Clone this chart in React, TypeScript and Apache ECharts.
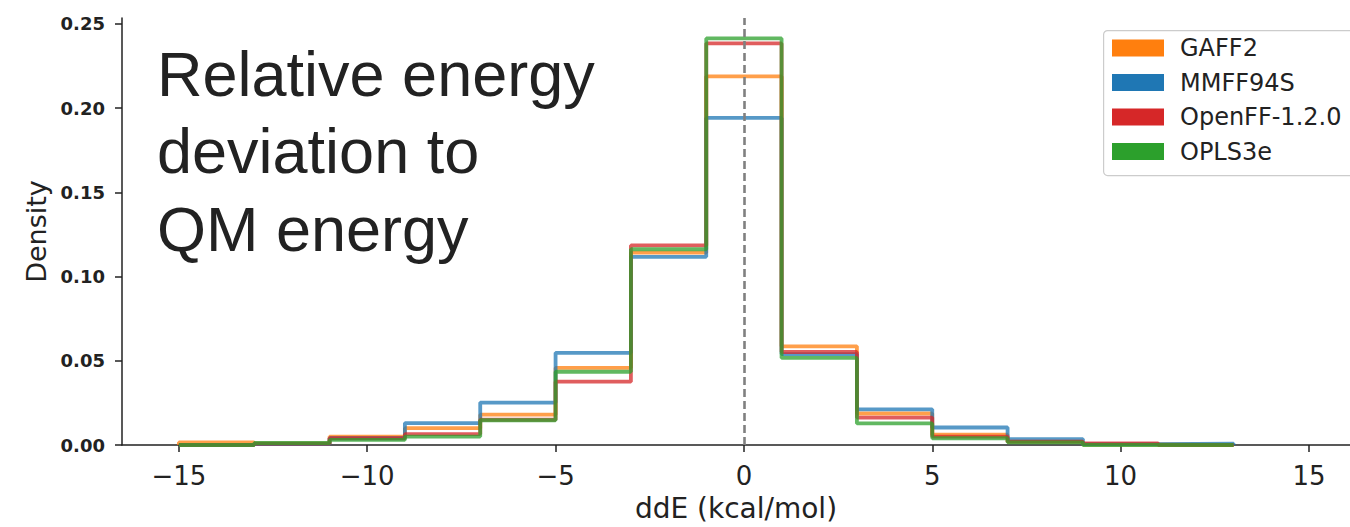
import React, { useEffect, useRef } from "react";
import * as echarts from "echarts";

const binEdges = [-15, -13, -11, -9, -7, -5, -3, -1, 1, 3, 5, 7, 9, 11, 13];
const seriesNames = ["GAFF2", "MMFF94S", "OpenFF-1.2.0", "OPLS3e"];
const seriesColors = ["#ff7f0e", "#1f77b4", "#d62728", "#2ca02c"];
const gaff2 = [0.0015, 0.0008, 0.005, 0.010, 0.018, 0.0458, 0.1142, 0.2188, 0.0586, 0.0187, 0.0061, 0.002, 0.0003, 0];
const mmff94s = [0, 0.0005, 0.004, 0.013, 0.0252, 0.0547, 0.1117, 0.1942, 0.054, 0.0212, 0.0104, 0.0035, 0.0005, 0.0008];
const openff = [0, 0.0008, 0.004, 0.0065, 0.015, 0.0376, 0.1185, 0.2384, 0.0552, 0.0163, 0.005, 0.002, 0.001, 0];
const opls3e = [0, 0.0012, 0.003, 0.005, 0.0147, 0.0435, 0.1162, 0.2414, 0.0517, 0.0128, 0.004, 0.0016, 0, 0];
const seriesValues = [gaff2, mmff94s, openff, opls3e];
const xTicks = [-15, -10, -5, 0, 5, 10, 15];
const yTicks = [0, 0.05, 0.1, 0.15, 0.2, 0.25];
const titleLines = ["Relative energy", "deviation to", "QM energy"];

function stepPoints(values: number[]): number[][] {
  const pts: number[][] = [[binEdges[0], 0]];
  values.forEach((v, i) => {
    pts.push([binEdges[i], v]);
    pts.push([binEdges[i + 1], v]);
  });
  pts.push([binEdges[binEdges.length - 1], 0]);
  return pts;
}

export default function App() {
  const ref = useRef<HTMLDivElement>(null);
  useEffect(() => {
    if (!ref.current) return;
    const chart = echarts.init(ref.current, null, { renderer: "svg" });
    const fmtMinus = (v: number) => String(v).replace("-", "\u2212");
    const series: any[] = seriesNames.map((name, i) => ({
      name,
      type: "line",
      data: stepPoints(seriesValues[i]),
      showSymbol: false,
      symbol: "none",
      color: seriesColors[i],
      lineStyle: { color: seriesColors[i], width: 3.8, opacity: 0.75 },
      itemStyle: { color: seriesColors[i] },
      z: 3 + i,
      silent: true,
      ...(i === 0
        ? {
            markLine: {
              silent: true,
              symbol: "none",
              label: { show: false },
              lineStyle: { color: "#808080", type: [8, 4], width: 2.6, opacity: 1 },
              data: [{ xAxis: 0 }],
              z: 10,
            },
          }
        : {}),
    }));
    chart.setOption({
      animation: false,
      backgroundColor: "#ffffff",
      grid: { left: 122, right: 0, top: 18, bottom: 71, containLabel: false },
      xAxis: {
        type: "value",
        min: -16.51,
        max: 16.09,
        name: "ddE (kcal/mol)",
        nameLocation: "middle",
        nameGap: 49,
        nameTextStyle: { fontFamily: "DejaVu Sans", fontSize: 28, color: "#222" },
        axisLine: { show: true, onZero: false, lineStyle: { color: "#222", width: 1.5 } },
        axisTick: { show: true, customValues: xTicks, length: 7, lineStyle: { color: "#222", width: 1.5 } },
        axisLabel: {
          customValues: xTicks,
          formatter: (v: number) => fmtMinus(v),
          fontFamily: "DejaVu Sans",
          fontSize: 26,
          color: "#222",
          margin: 18,
        },
        splitLine: { show: false },
      },
      yAxis: {
        type: "value",
        min: 0,
        max: 0.2535,
        name: "Density",
        nameLocation: "middle",
        nameGap: 68,
        nameTextStyle: { fontFamily: "DejaVu Sans", fontSize: 27, color: "#222" },
        axisLine: { show: true, onZero: false, lineStyle: { color: "#222", width: 1.5 } },
        axisTick: { show: true, customValues: yTicks, length: 7, lineStyle: { color: "#222", width: 1.5 } },
        axisLabel: {
          customValues: yTicks,
          formatter: (v: number) => v.toFixed(2),
          fontFamily: "DejaVu Sans",
          fontSize: 18,
          fontWeight: "bold",
          color: "#222",
          margin: 17,
        },
        splitLine: { show: false },
      },
      legend: {
        orient: "vertical",
        left: 1103,
        top: 30,
        data: seriesNames,
        icon: "rect",
        itemWidth: 52,
        itemHeight: 17,
        itemGap: 10.5,
        padding: [6, 10, 11, 9],
        borderWidth: 0,
        z: 20,
        itemStyle: { opacity: 1 },
        textStyle: { fontFamily: "DejaVu Sans", fontSize: 24, color: "#222", lineHeight: 24, padding: [0, 0, 0, 11] },
        selectedMode: false,
      },
      graphic: [
        {
          type: "rect",
          left: 1103,
          top: 30,
          z: 15,
          shape: { width: 300, height: 145, r: 4 },
          style: { fill: "#ffffff", stroke: "#cccccc", lineWidth: 1.2 },
        },
        ...titleLines.map((t, i) => ({
          type: "text",
          left: 157,
          top: 42 + i * 77.5,
          z: 10,
          style: {
            text: t,
            fontFamily: "Liberation Sans",
            fontSize: 63,
            fill: "#222",
          },
        })),
      ],
      series,
    });
    return () => chart.dispose();
  }, []);
  return (
    <div
      ref={ref}
      style={{ position: "fixed", left: 0, top: 0, width: 1350, height: 527 }}
    />
  );
}
